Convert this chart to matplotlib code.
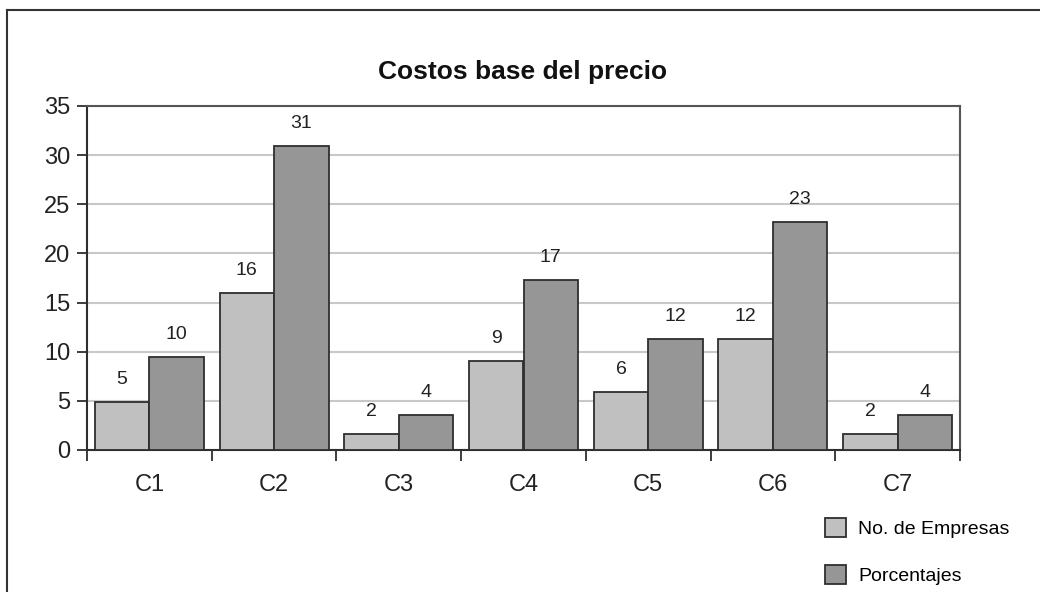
import numpy as np
import matplotlib
matplotlib.use('Agg')
import matplotlib.pyplot as plt
from matplotlib.lines import Line2D
from matplotlib.patches import Patch

plt.rcParams['font.family'] = ['Liberation Sans Narrow', 'Liberation Sans', 'DejaVu Sans']

# datos
categorias = ['C1', 'C2', 'C3', 'C4', 'C5', 'C6', 'C7']
empresas = [4.85, 15.95, 1.6, 9.1, 5.95, 11.3, 1.6]          # altura de las barras
porcentajes = [9.5, 30.9, 3.55, 17.3, 11.3, 23.2, 3.55]
etq_empresas = ['5', '16', '2', '9', '6', '12', '2']        # etiquetas mostradas
etq_porcentajes = ['10', '31', '4', '17', '12', '23', '4']

gris_claro = '#c0c0c0'
gris_oscuro = '#969696'
borde = '#2e2e2e'

fig = plt.figure(figsize=(10.4, 5.92), dpi=100)
ax = fig.add_axes([87/1040, 1-450/592, 873/1040, 344/592])

x = np.arange(len(categorias))
w = 0.437
b1 = ax.bar(x - w/2, empresas, w, color=gris_claro, edgecolor=borde, linewidth=1.3, zorder=3)
b2 = ax.bar(x + w/2, porcentajes, w, color=gris_oscuro, edgecolor=borde, linewidth=1.3, zorder=3)

for barras, etqs in [(b1, etq_empresas), (b2, etq_porcentajes)]:
    for r, t in zip(barras, etqs):
        ax.annotate(t, (r.get_x() + r.get_width()/2, r.get_height()),
                    xytext=(0, 10), textcoords='offset points',
                    ha='center', va='bottom', fontsize=14, color='#222222')

ax.set_xlim(-0.5, 6.5)
ax.set_ylim(0, 35)
ax.set_yticks(range(0, 36, 5))
ax.set_xticks(x)
ax.set_xticklabels(categorias)
ax.set_xticks(np.arange(-0.5, 7, 1), minor=True)
ax.tick_params(axis='x', which='major', length=0, pad=17, labelsize=17, labelcolor='#222222')
ax.tick_params(axis='x', which='minor', length=8, width=1.3, color=borde, direction='out')
ax.tick_params(axis='y', length=7, width=1.3, color=borde, pad=5, labelsize=17, labelcolor='#222222')

ax.yaxis.grid(True, color='#c8c8c8', linewidth=1.5, zorder=0)
ax.set_axisbelow(True)
for lado in ['left', 'bottom']:
    ax.spines[lado].set_color(borde)
    ax.spines[lado].set_linewidth(1.5)
for lado in ['top', 'right']:
    ax.spines[lado].set_color('#555555')
    ax.spines[lado].set_linewidth(1.5)

fig.text(523/1040, 1-79/592, 'Costos base del precio', ha='center', va='baseline',
         fontsize=19, fontweight='bold', color='#111111')

# leyenda
handles = [Patch(facecolor=gris_claro, edgecolor=borde, linewidth=1.3),
           Patch(facecolor=gris_oscuro, edgecolor=borde, linewidth=1.3)]
fig.legend(handles, ['No. de Empresas', 'Porcentajes'], loc='upper left',
           bbox_to_anchor=(825/1040, 1-518/592), frameon=False, fontsize=14,
           handlelength=1.1, handleheight=1.1, handletextpad=0.6,
           labelspacing=1.4, borderpad=0, borderaxespad=0)

# marco exterior
fig.add_artist(Line2D([7/1040, 7/1040], [0, 1-10/592], color='#333333', linewidth=1.5))
fig.add_artist(Line2D([7/1040, 1], [1-10/592, 1-10/592], color='#333333', linewidth=1.5))

fig.savefig('out.png', dpi=100)
